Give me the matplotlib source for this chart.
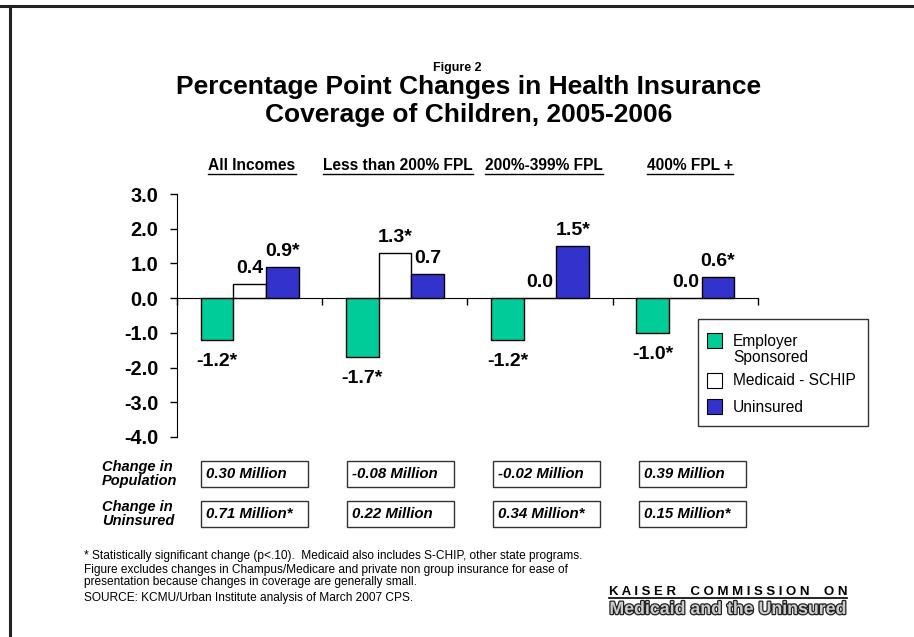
import numpy as np
import matplotlib.pyplot as plt
import matplotlib.patheffects as pe
from matplotlib.lines import Line2D
from matplotlib.patches import Rectangle

plt.rcParams['font.family'] = ['Liberation Sans', 'DejaVu Sans']
plt.rcParams['axes.unicode_minus'] = False

W, H = 914, 637

categories = ['All Incomes', 'Less than 200% FPL', '200%-399% FPL', '400% FPL +']
series_names = ['Employer\nSponsored', 'Medicaid - SCHIP', 'Uninsured']
employer = [-1.2, -1.7, -1.2, -1.0]
medicaid = [0.4, 1.3, 0.0, 0.0]
uninsured = [0.9, 0.7, 1.5, 0.6]
employer_sig = [True, True, True, True]
medicaid_sig = [False, True, False, False]
uninsured_sig = [True, False, True, True]
pop_change = ['0.30 Million', '-0.08 Million', '-0.02 Million', '0.39 Million']
unins_change = ['0.71 Million*', '0.22 Million', '0.34 Million*', '0.15 Million*']
yticks = [-4.0, -3.0, -2.0, -1.0, 0.0, 1.0, 2.0, 3.0]

colors = ['#00CC99', '#FFFFFF', '#3333CC']


def px(x, y):
    # pixel position (top-left origin) -> figure fraction
    return x / W, 1 - y / H


def ftext(x, y, s, **kw):
    fx, fy = px(x, y)
    return fig.text(fx, fy, s, **kw)


def frect(x, y, w, h, **kw):
    fx, fy = px(x, y + h)
    r = Rectangle((fx, fy), w / W, h / H, transform=fig.transFigure, **kw)
    fig.add_artist(r)
    return r


def underline(t, offset=2, lw=1.0):
    bb = t.get_window_extent(renderer=fig.canvas.get_renderer())
    y = bb.y0 - offset + 2
    fig.add_artist(Line2D([bb.x0 / W, bb.x1 / W], [y / H, y / H],
                          transform=fig.transFigure, color='black', lw=lw))


fig = plt.figure(figsize=(W / 100, H / 100), dpi=100)

# frame lines
fig.add_artist(Line2D([0, 1], [1 - 5.5 / H, 1 - 5.5 / H], transform=fig.transFigure,
                      color='#222222', lw=2.2))
fig.add_artist(Line2D([10 / W, 10 / W], [0, 1 - 5.5 / H], transform=fig.transFigure,
                      color='#222222', lw=2.2))

# titles
ftext(457, 68, 'Figure 2', ha='center', va='center', fontsize=9, fontweight='bold')
ftext(469, 101, 'Percentage Point Changes in Health Insurance\nCoverage of Children, 2005-2006',
      ha='center', va='center', fontsize=19, fontweight='bold', linespacing=1.18)

# bar chart
x0, x1, y0, y1 = 177, 758, 194, 437
ax = fig.add_axes([x0 / W, 1 - y1 / H, (x1 - x0) / W, (y1 - y0) / H])
x = np.arange(len(categories))
bw = 0.225
series = [employer, medicaid, uninsured]
sigs = [employer_sig, medicaid_sig, uninsured_sig]
for k, (vals, sig) in enumerate(zip(series, sigs)):
    xs = x + (k - 1) * bw
    ax.bar(xs, vals, bw, color=colors[k], edgecolor='black', linewidth=1.0, zorder=2)
    for xi, v, s in zip(xs, vals, sig):
        lab = f'{v:.1f}' + ('*' if s else '')
        dy = -26 if v < 0 else 11
        ax.annotate(lab, (xi, v), xytext=(0, dy), textcoords='offset pixels',
                    ha='center', va='baseline', fontsize=14, fontweight='bold')

ax.set_xlim(-0.5, len(categories) - 0.5)
ax.set_ylim(-4, 3)
ax.set_yticks(yticks)
ax.set_yticklabels([f'{t:.1f}' for t in yticks], fontsize=14.3, fontweight='bold')
ax.set_xticks(np.arange(len(categories) + 1) - 0.5)
ax.set_xticklabels([])
ax.tick_params(axis='y', direction='out', length=5, width=1, pad=8.5)
ax.tick_params(axis='x', direction='out', length=5, width=1)
for s in ['top', 'right']:
    ax.spines[s].set_visible(False)
ax.spines['bottom'].set_position(('data', 0))
ax.spines['bottom'].set_zorder(3)
ax.patch.set_alpha(0)

# group headers
fig.canvas.draw()
headers = []
for i, c in enumerate(categories):
    gx = 249 + 146 * i + 3
    t = ftext(gx, 170, c, ha='center', va='baseline', fontsize=11.2, fontweight='bold')
    headers.append(t)

# legend box
frect(698, 319, 170, 107, facecolor='white', edgecolor='#333333', lw=1.0)
patch_y = [333, 373, 399]
text_y = [349.5, 380.5, 407]
for c, name, py, ty in zip(colors, series_names, patch_y, text_y):
    frect(707, py, 15, 15, facecolor=c, edgecolor='black', lw=0.8)
    ftext(733, ty, name, ha='left', va='center', fontsize=11.2, linespacing=1.05)

# change table under the chart
ftext(102, 474, 'Change in\nPopulation', ha='left', va='center', fontsize=10.5,
      fontweight='bold', style='italic', linespacing=1.05)
ftext(102, 514, 'Change in\nUninsured', ha='left', va='center', fontsize=10.5,
      fontweight='bold', style='italic', linespacing=1.05)
for i in range(len(categories)):
    bx = 201 + 146 * i
    for by, txt in [(461, pop_change[i]), (501, unins_change[i])]:
        frect(bx, by, 107, 26, facecolor='white', edgecolor='#333333', lw=1.0)
        ftext(bx + 5, by + 13, txt, ha='left', va='center', fontsize=10.8,
              fontweight='bold', style='italic')

# footnotes
ftext(84, 556, '* Statistically significant change (p<.10).  Medicaid also includes '
      'S-CHIP, other state programs.', ha='left', va='center', fontsize=8.6)
ftext(84, 576, 'Figure excludes changes in Champus/Medicare and private non group '
      'insurance for ease of\npresentation because changes in coverage are generally small.',
      ha='left', va='center', fontsize=8.6, linespacing=1.0)
ftext(84, 598, 'SOURCE: KCMU/Urban Institute analysis of March 2007 CPS.',
      ha='left', va='center', fontsize=8.6)

# logo
k = ftext(728, 595, 'K A I S E R    C O M M I S S I O N    O N', ha='center',
          va='baseline', fontsize=9.5, fontweight='bold')
ftext(728, 614, 'Medicaid and the Uninsured', ha='center', va='baseline',
      fontsize=12.8, fontweight='bold', color='#cccccc',
      path_effects=[pe.withStroke(linewidth=1.8, foreground='#222222')])

for t in headers:
    underline(t, offset=3)
underline(k, offset=2, lw=1.2)

fig.savefig('out.png', dpi=100)
